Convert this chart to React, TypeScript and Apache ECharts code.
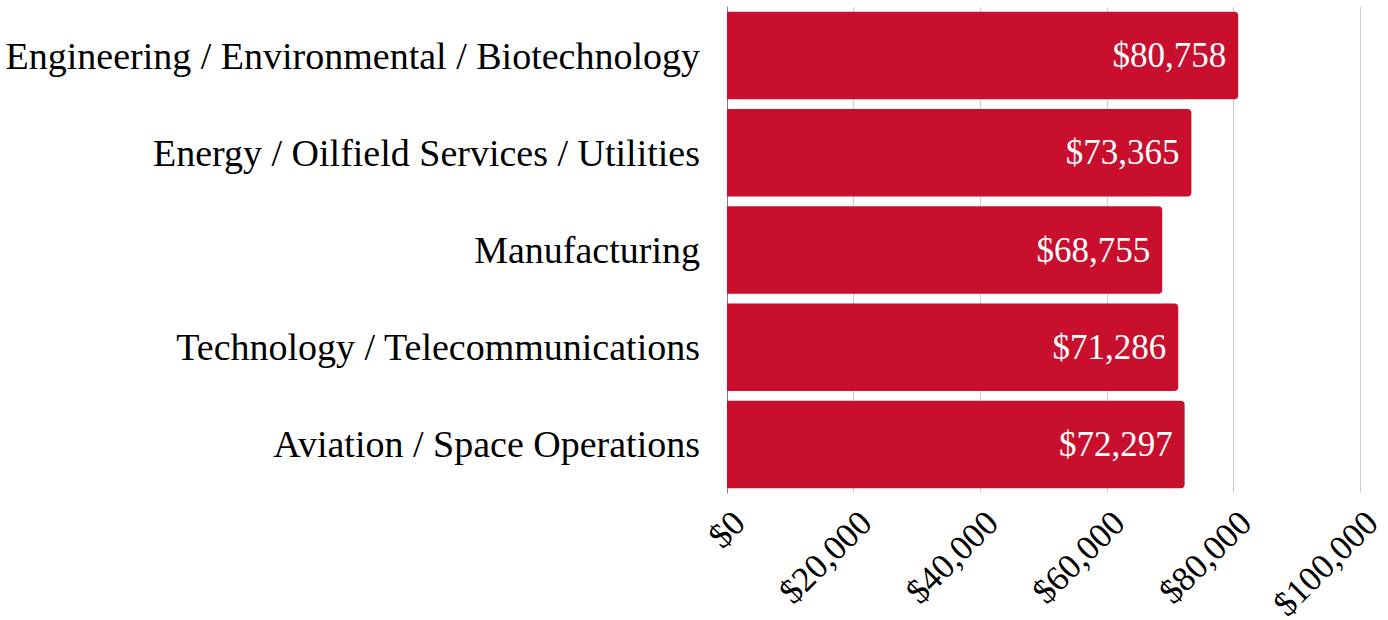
import React, { useEffect, useRef } from "react";
import * as echarts from "echarts";

const categories = [
  "Engineering / Environmental / Biotechnology",
  "Energy / Oilfield Services / Utilities",
  "Manufacturing",
  "Technology / Telecommunications",
  "Aviation / Space Operations",
];
const salaries = [80758, 73365, 68755, 71286, 72297];
const axisMin = 0;
const axisMax = 100000;
const axisStep = 20000;

const FONT = "'Liberation Serif', 'DejaVu Serif', serif";
const fmt = (v: number) => "$" + v.toLocaleString("en-US");

export default function App() {
  const ref = useRef<HTMLDivElement>(null);
  useEffect(() => {
    document.body.style.margin = "0";
    const chart = echarts.init(ref.current!, null, { renderer: "svg" });
    chart.setOption({
      animation: false,
      backgroundColor: "#ffffff",
      grid: {
        left: 727,
        right: 28,
        top: 7,
        bottom: 127,
        containLabel: false,
        outerBoundsMode: "none",
      },
      xAxis: {
        type: "value",
        min: axisMin,
        max: axisMax,
        interval: axisStep,
        axisLine: { show: false },
        axisTick: { show: false },
        splitLine: { show: true, lineStyle: { color: "#cccccc", width: 1 } },
        axisLabel: {
          rotate: 45,
          margin: 12,
          verticalAlign: "top",
          lineHeight: 34,
          fontFamily: FONT,
          fontSize: 35,
          color: "#000000",
          formatter: (v: number) => fmt(v),
        },
      },
      yAxis: {
        type: "category",
        data: categories,
        inverse: true,
        axisLine: { show: true, lineStyle: { color: "#7f7f7f", width: 1 } },
        axisTick: { show: false },
        axisLabel: {
          margin: 27,
          fontFamily: FONT,
          fontSize: 38,
          color: "#000000",
        },
      },
      series: [
        {
          type: "bar",
          data: salaries,
          barCategoryGap: "10%",
          itemStyle: { color: "#C8102E", borderRadius: [0, 4, 4, 0] },
          label: {
            show: true,
            position: "insideRight",
            distance: 12,
            color: "#ffffff",
            fontFamily: FONT,
            fontSize: 35,
            formatter: (p: any) => fmt(p.value),
          },
        },
      ],
    });
    return () => chart.dispose();
  }, []);
  return <div ref={ref} style={{ width: 1388, height: 620 }} />;
}
